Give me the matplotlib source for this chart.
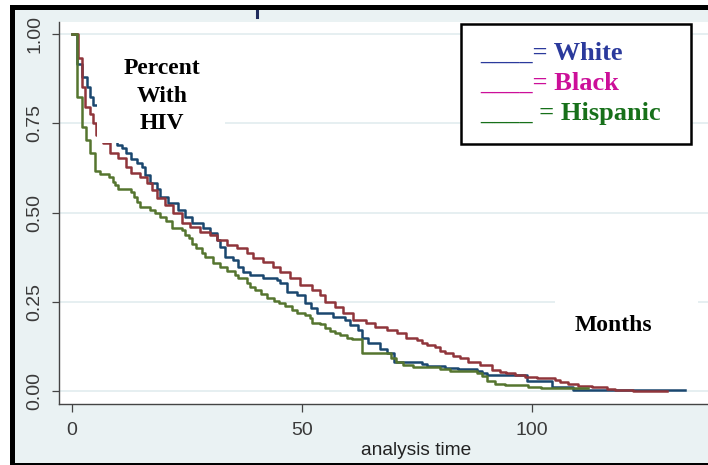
import matplotlib.pyplot as plt
from matplotlib.patches import Rectangle
from matplotlib.lines import Line2D

# Kaplan-Meier steps: time (months) and survival after the step
white_t = [0, 1.1, 2.3, 3.3, 4.1, 4.7, 6.5, 8.0, 9.9, 10.9, 11.9, 13.0, 14.1, 15.2, 15.9,
           17.0, 18.5, 19.2, 21.0, 23.1, 24.6, 26.1, 28.6, 30.0, 31.5, 32.2, 33.3, 35.1,
           36.2, 37.3, 38.7, 41.6, 44.5, 45.2, 46.7, 48.9, 50.7, 52.0, 53.2, 56.8, 59.3,
           60.4, 62.2, 63.0, 64.4, 66.9, 68.5, 70.0, 76.0, 77.1, 81.0, 83.9, 87.9, 89.0,
           90.2, 98.9, 104.2, 108.9, 133.1]
white_s = [1.0, 0.918, 0.881, 0.853, 0.825, 0.802, 0.76, 0.72, 0.690, 0.680, 0.666, 0.650,
           0.638, 0.627, 0.606, 0.582, 0.566, 0.545, 0.526, 0.507, 0.489, 0.470, 0.456,
           0.442, 0.423, 0.405, 0.377, 0.367, 0.348, 0.334, 0.325, 0.316, 0.311, 0.302,
           0.278, 0.269, 0.246, 0.232, 0.218, 0.208, 0.199, 0.185, 0.171, 0.148, 0.136,
           0.118, 0.106, 0.080, 0.076, 0.070, 0.064, 0.061, 0.057, 0.051, 0.045, 0.029,
           0.012, 0.003, 0.003]

black_t = [0, 1.4, 2.2, 2.9, 4.0, 4.7, 5.3, 6.9, 8.3, 10.1, 11.9, 13.0, 14.8, 16.3, 17.4,
           18.5, 20.3, 22.1, 23.9, 25.7, 27.9, 30.0, 31.5, 33.7, 35.8, 38.0, 39.4, 41.6,
           43.8, 45.2, 47.4, 49.6, 52.1, 53.9, 55.0, 57.2, 59.0, 61.1, 64.0, 65.8, 68.4,
           70.6, 72.7, 74.9, 76.0, 77.1, 78.9, 80.0, 81.0, 82.8, 84.3, 86.1, 88.6, 91.2,
           93.0, 94.4, 96.2, 98.4, 101.0, 104.9, 106.0, 107.8, 110.0, 112.9, 116.2, 118.0,
           121.9, 129.2]
black_s = [1.0, 0.934, 0.853, 0.797, 0.776, 0.750, 0.718, 0.694, 0.666, 0.652, 0.629, 0.610,
           0.601, 0.582, 0.563, 0.540, 0.521, 0.498, 0.470, 0.461, 0.447, 0.437, 0.423,
           0.409, 0.400, 0.386, 0.372, 0.362, 0.348, 0.334, 0.316, 0.297, 0.283, 0.269,
           0.250, 0.236, 0.218, 0.199, 0.190, 0.180, 0.171, 0.162, 0.150, 0.143, 0.135,
           0.129, 0.124, 0.112, 0.106, 0.099, 0.092, 0.082, 0.073, 0.059, 0.054, 0.050,
           0.045, 0.040, 0.036, 0.031, 0.026, 0.019, 0.014, 0.010, 0.007, 0.003, 0.001,
           0.001]

hisp_t = [0, 1.1, 2.2, 3.1, 4.0, 5.1, 6.1, 8.2, 8.9, 9.4, 10.1, 12.8, 13.5, 14.2, 14.8,
          17.0, 18.1, 19.2, 20.6, 21.9, 23.9, 24.6, 25.5, 26.1, 27.1, 28.2, 28.9, 30.7,
          32.2, 33.7, 35.5, 36.2, 38.0, 38.7, 39.8, 41.2, 42.5, 44.0, 45.0, 46.3, 47.8,
          48.9, 50.7, 51.7, 52.1, 53.9, 55.0, 56.1, 57.2, 58.3, 59.7, 60.8, 63.0, 69.3,
          70.5, 72.0, 74.2, 80.0, 82.1, 87.9, 89.0, 90.2, 91.9, 94.1, 99.1, 102.0, 112.2]
hisp_s = [1.0, 0.825, 0.741, 0.705, 0.666, 0.618, 0.608, 0.599, 0.587, 0.577, 0.566, 0.557,
          0.545, 0.531, 0.517, 0.507, 0.500, 0.489, 0.477, 0.456, 0.451, 0.437, 0.428,
          0.412, 0.400, 0.386, 0.377, 0.358, 0.347, 0.337, 0.325, 0.316, 0.302, 0.291,
          0.283, 0.272, 0.262, 0.253, 0.246, 0.238, 0.227, 0.218, 0.213, 0.204, 0.192,
          0.188, 0.177, 0.169, 0.162, 0.157, 0.150, 0.145, 0.106, 0.092, 0.082, 0.073,
          0.066, 0.061, 0.057, 0.050, 0.042, 0.029, 0.020, 0.017, 0.012, 0.009, 0.009]

y_ticks = [0, 0.25, 0.5, 0.75, 1.0]
y_labels = ["0.00", "0.25", "0.50", "0.75", "1.00"]
x_ticks = [0, 50, 100]

W, H = 708, 465
bg = '#EAF2F3'
serif = 'Liberation Serif'
sans = 'Liberation Sans'

fig = plt.figure(figsize=(W / 100, H / 100), dpi=100, facecolor='white')

# black frame + pale stata background
fig.patches.append(Rectangle((10 / W, 0), 1, (H - 5) / H, transform=fig.transFigure,
                             facecolor='black', edgecolor='none', zorder=-10))
fig.patches.append(Rectangle((15 / W, 2 / H), 1, (H - 12) / H, transform=fig.transFigure,
                             facecolor=bg, edgecolor='none', zorder=-9))
# stray mark at the top
fig.add_artist(Line2D([257.3 / W] * 2, [1 - 11 / H, 1 - 17 / H], color='#1F2B5C', lw=2.2))

ax = fig.add_axes([58.7 / W, (H - 404) / H, 1 - 58.7 / W, (404 - 21.7) / H])
ax.set_facecolor('white')


def px(x, y):
    # pixel position in the picture -> axes fraction
    return (x - 58.7) / (W - 58.7), (404 - y) / (404 - 21.7)


ax.step(white_t, white_s, where='post', color='#1A476F', lw=1.8, zorder=3)
ax.step(black_t, black_s, where='post', color='#90353B', lw=1.8, zorder=3)
ax.step(hisp_t, hisp_s, where='post', color='#55752F', lw=1.8, zorder=3)

ax.set_xlim(-2.8, 138.15)
ax.set_ylim(-0.0364, 1.0353)

ax.set_yticks(y_ticks)
ax.set_yticklabels(y_labels, rotation=90, va='center', family=sans, fontsize=14,
                   color='#3A3A3A')
ax.set_xticks(x_ticks)
ax.set_xticklabels([str(v) for v in x_ticks], family=sans, fontsize=14, color='#3A3A3A')
ax.tick_params(axis='y', length=5, width=0.9, color='#444444', pad=6)
ax.tick_params(axis='x', length=5.8, width=0.9, color='#444444', pad=7)
ax.grid(axis='y', color='#E4EEF0', lw=1.3, zorder=1)
ax.set_axisbelow(True)

for side in ['top', 'right']:
    ax.spines[side].set_visible(False)
for side in ['left', 'bottom']:
    ax.spines[side].set_color('#444444')
    ax.spines[side].set_linewidth(1.0)

ax.set_xlabel('analysis time', family=sans, fontsize=13.8, color='#222222')
ax.xaxis.set_label_coords(*px(416.5, 450))
ax.xaxis.label.set_verticalalignment('center')

# white boxes behind the annotations
x0, y0 = px(97, 143)
x1, y1 = px(225, 42)
ax.add_patch(Rectangle((x0, y0), x1 - x0, y1 - y0, transform=ax.transAxes,
                       facecolor='white', edgecolor='none', zorder=4))
x0, y0 = px(555, 346)
x1, y1 = px(698, 298)
ax.add_patch(Rectangle((x0, y0), x1 - x0, y1 - y0, transform=ax.transAxes,
                       facecolor='white', edgecolor='none', zorder=4))
x0, y0 = px(460.7, 144)
x1, y1 = px(690.7, 24)
ax.add_patch(Rectangle((x0, y0), x1 - x0, y1 - y0, transform=ax.transAxes,
                       facecolor='white', edgecolor='black', lw=1.8, zorder=4))

for word, base in [('Percent', 74), ('With', 101.7), ('HIV', 129.3)]:
    ax.text(*px(161.7, base), word, transform=ax.transAxes, ha='center', va='baseline',
            family=serif, weight='bold', fontsize=17, color='black', zorder=5)
ax.text(*px(613, 330.7), 'Months', transform=ax.transAxes, ha='center', va='baseline',
        family=serif, weight='bold', fontsize=17, color='black', zorder=5)

legend_rows = [('____= White', '#2B3A9C', 60), ('____= Black', '#CC0F99', 89.3),
               ('____ = Hispanic', '#17701A', 120)]
for label, col, base in legend_rows:
    ax.text(*px(480.7, base), label, transform=ax.transAxes, ha='left', va='baseline',
            family=serif, weight='bold', fontsize=19, color=col, zorder=5)

fig.savefig('out.png', dpi=100, facecolor=fig.get_facecolor())
